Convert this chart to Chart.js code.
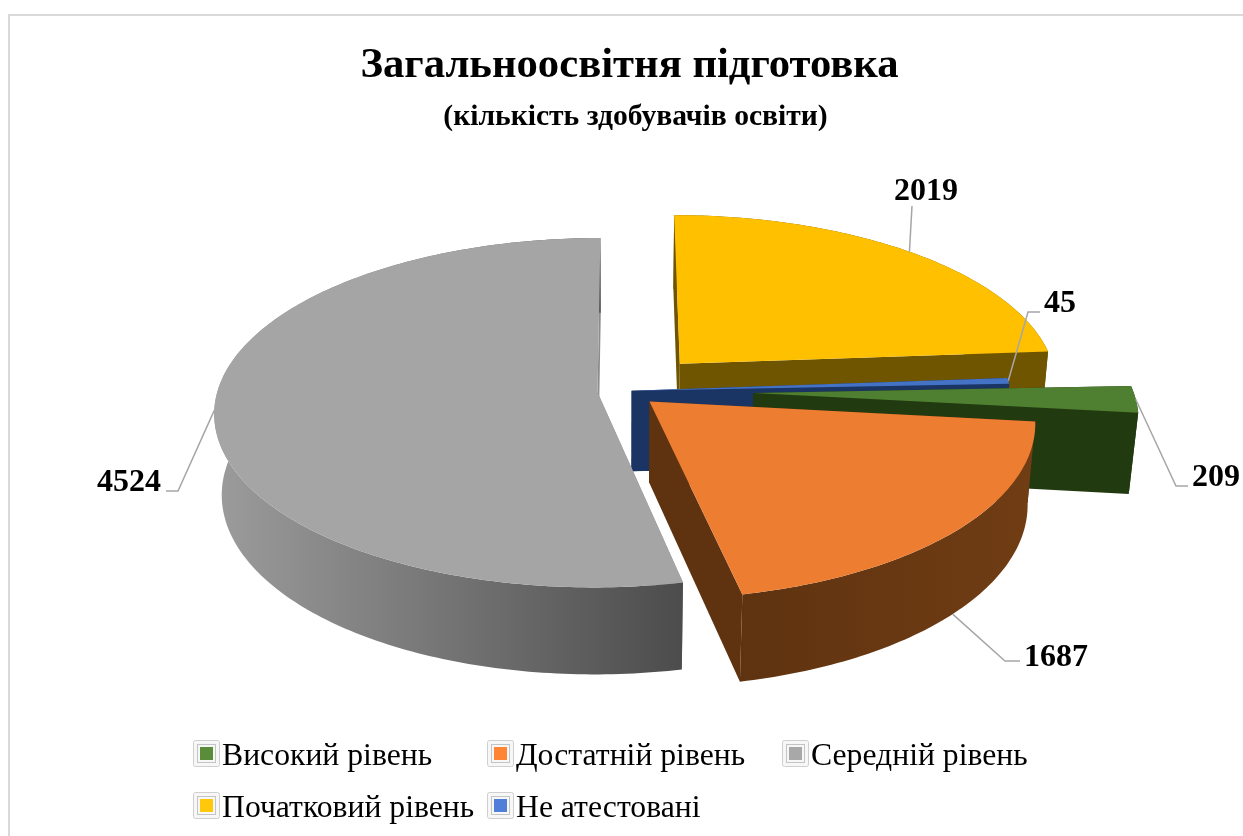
<!DOCTYPE html>
<html lang="uk">
<head>
<meta charset="utf-8">
<title>Загальноосвітня підготовка</title>
<script src="https://cdn.jsdelivr.net/npm/chart.js@4"></script>
<style>
  html, body { margin: 0; padding: 0; background: #fff; overflow: hidden; }
  #frame { position: absolute; left: 8px; top: 14px; width: 1400px; height: 1000px; border: 2px solid #d9d9d9; }
  #pie { position: absolute; left: 0; top: 0; }
</style>
</head>
<body>
<div id="frame"></div>
<canvas id="pie" width="1243" height="836"></canvas>
<script>
// Data
const levels = ['Високий рівень', 'Достатній рівень', 'Середній рівень', 'Початковий рівень', 'Не атестовані'];
const students = [209, 1687, 4524, 2019, 45];

// Slice styling
const topColors = ['#4f7f30', '#ed7d31', '#a5a5a5', '#ffc000', '#4472c4'];
const sideLeft = ['#223a10', '#5f3310', '#9c9c9c', '#6f5500', '#1a3464'];
const sideRight = ['#223a10', '#703d14', '#4c4c4c', '#6f5500', '#1a3464'];
const wallColors = ['#223a10', '#5f3310', '#8c8c8c', '#6f5500', '#1a3464'];
const keyColors = ['#5b8c3a', '#ff8534', '#a8a8a8', '#ffc80a', '#4f7fd6'];
const explode = [34, 9, 7, 22, 2]; // percent of the radius

// Leader lines and value labels: z of the anchor, elbow, line end, text position
const leaders = [
  { z: 0, elbow: [1176, 486], end: [1188, 486], text: [1192, 486] },
  { z: 1, elbow: [1005, 661], end: [1020, 661], text: [1024, 666] },
  { z: 0, elbow: [178, 491], end: [166, 491], text: [97, 491] },
  { z: 0, elbow: [912, 206], end: [912, 206], text: [894, 200] },
  { z: 0, elbow: [1028, 312], end: [1040, 312], text: [1044, 312] }
];

// Legend slots
const legendSlots = [[193, 740], [487, 740], [782, 740], [193, 792], [487, 792]];

// Camera for the tilted disc
const view = { cx: 624, cy: 391, rx: 380, ry: 172, persp: 0.117, shrink: 0.0185, depth: 82 };

function project(u, v, z) {
  const s = 1 / (1 - view.persp * v + view.shrink * z);
  return [view.cx + view.rx * u * s, view.cy + (view.ry * v + view.depth * z) * s];
}

function fillPath(ctx, pts, fill) {
  ctx.beginPath();
  pts.forEach((p, i) => (i ? ctx.lineTo(p[0], p[1]) : ctx.moveTo(p[0], p[1])));
  ctx.closePath();
  ctx.fillStyle = fill;
  ctx.fill();
}

// Turns one arc element of the pie into the geometry of a raised slice
function sliceGeometry(arc) {
  const mid = (arc.startAngle + arc.endAngle) / 2;
  const d = arc.options.offset / 100;
  const ou = Math.cos(mid) * d;
  const ov = Math.sin(mid) * d;
  const rim = (z) => {
    const pts = [];
    const steps = Math.max(4, Math.ceil((arc.endAngle - arc.startAngle) * 60));
    for (let i = 0; i <= steps; i++) {
      const a = arc.startAngle + (arc.endAngle - arc.startAngle) * i / steps;
      pts.push(project(ou + Math.cos(a), ov + Math.sin(a), z));
    }
    return pts;
  };
  return { mid, ou, ov, rim, tip: (z) => project(ou, ov, z) };
}

const pie3d = {
  id: 'pie3d',
  afterLayout(chart) {
    // the subtitle sits a little right of the title in the original
    const sub = chart.boxes.find((b) => b.options && b.options.text === '(кількість здобувачів освіти)');
    if (sub) sub.left += 12;
  },
  beforeDatasetDraw(chart, args) {
    const ctx = chart.ctx;
    const arcs = chart.getDatasetMeta(args.index).data;
    const order = arcs.map((a, i) => i).sort((p, q) => {
      const mp = (arcs[p].startAngle + arcs[p].endAngle) / 2;
      const mq = (arcs[q].startAngle + arcs[q].endAngle) / 2;
      return Math.sin(mp) - Math.sin(mq);
    });
    ctx.save();
    order.forEach((i) => {
      const g = sliceGeometry(arcs[i]);
      const top = g.rim(0);
      const bottom = g.rim(1);
      const xs = top.map((p) => p[0]);
      const shade = ctx.createLinearGradient(Math.min(...xs), 0, Math.max(...xs), 0);
      shade.addColorStop(0, sideLeft[i]);
      shade.addColorStop(1, sideRight[i]);
      // radial walls
      fillPath(ctx, [g.tip(0), top[0], bottom[0], g.tip(1)], wallColors[i]);
      fillPath(ctx, [g.tip(0), top[top.length - 1], bottom[bottom.length - 1], g.tip(1)], wallColors[i]);
      // outer wall
      fillPath(ctx, top.concat(bottom.slice().reverse()), shade);
      // top face
      fillPath(ctx, [g.tip(0)].concat(top), topColors[i]);
    });
    ctx.restore();
    return false; // the flat arcs are replaced by the raised ones
  },
  afterDatasetsDraw(chart) {
    const ctx = chart.ctx;
    const arcs = chart.getDatasetMeta(0).data;
    ctx.save();
    // leader lines and values
    ctx.strokeStyle = '#a6a6a6';
    ctx.lineWidth = 1.5;
    ctx.fillStyle = '#000';
    ctx.font = 'bold 32px "Liberation Serif"';
    ctx.textAlign = 'left';
    ctx.textBaseline = 'alphabetic';
    arcs.forEach((arc, i) => {
      const g = sliceGeometry(arc);
      const l = leaders[i];
      const a = project(g.ou + Math.cos(g.mid), g.ov + Math.sin(g.mid), l.z);
      ctx.beginPath();
      ctx.moveTo(a[0], a[1]);
      ctx.lineTo(l.elbow[0], l.elbow[1]);
      ctx.lineTo(l.end[0], l.end[1]);
      ctx.stroke();
      ctx.fillText(String(students[i]), l.text[0], l.text[1]);
    });
    // legend keys and names
    ctx.font = '31.7px "Liberation Serif"';
    levels.forEach((name, i) => {
      const [x, y] = legendSlots[i];
      ctx.fillStyle = '#f7f7f7';
      ctx.strokeStyle = '#cfcfcf';
      ctx.lineWidth = 1;
      ctx.beginPath();
      ctx.roundRect(x + 0.5, y + 0.5, 26, 26, 2);
      ctx.fill();
      ctx.stroke();
      ctx.strokeStyle = '#c4c4c4';
      ctx.strokeRect(x + 4.5, y + 4.5, 18, 18);
      ctx.fillStyle = keyColors[i];
      ctx.fillRect(x + 7, y + 7, 13, 13);
      ctx.fillStyle = '#000';
      ctx.fillText(name, x + 29, y + 25);
    });
    ctx.restore();
  }
};

new Chart(document.getElementById('pie'), {
  type: 'pie',
  data: {
    labels: levels,
    datasets: [{ data: students, backgroundColor: topColors, offset: explode, borderWidth: 0 }]
  },
  options: {
    responsive: false,
    animation: false,
    rotation: 87.6,
    layout: { padding: { left: 16, top: 40 } },
    plugins: {
      legend: { display: false },
      tooltip: { enabled: false },
      title: {
        display: true,
        text: 'Загальноосвітня підготовка',
        color: '#000',
        font: { family: '"Liberation Serif"', size: 42.7, weight: 'bold' },
        padding: { top: 0, bottom: 8 }
      },
      subtitle: {
        display: true,
        text: '(кількість здобувачів освіти)',
        color: '#000',
        font: { family: '"Liberation Serif"', size: 29.6, weight: 'bold' }
      }
    }
  },
  plugins: [pie3d]
});
</script>
</body>
</html>
